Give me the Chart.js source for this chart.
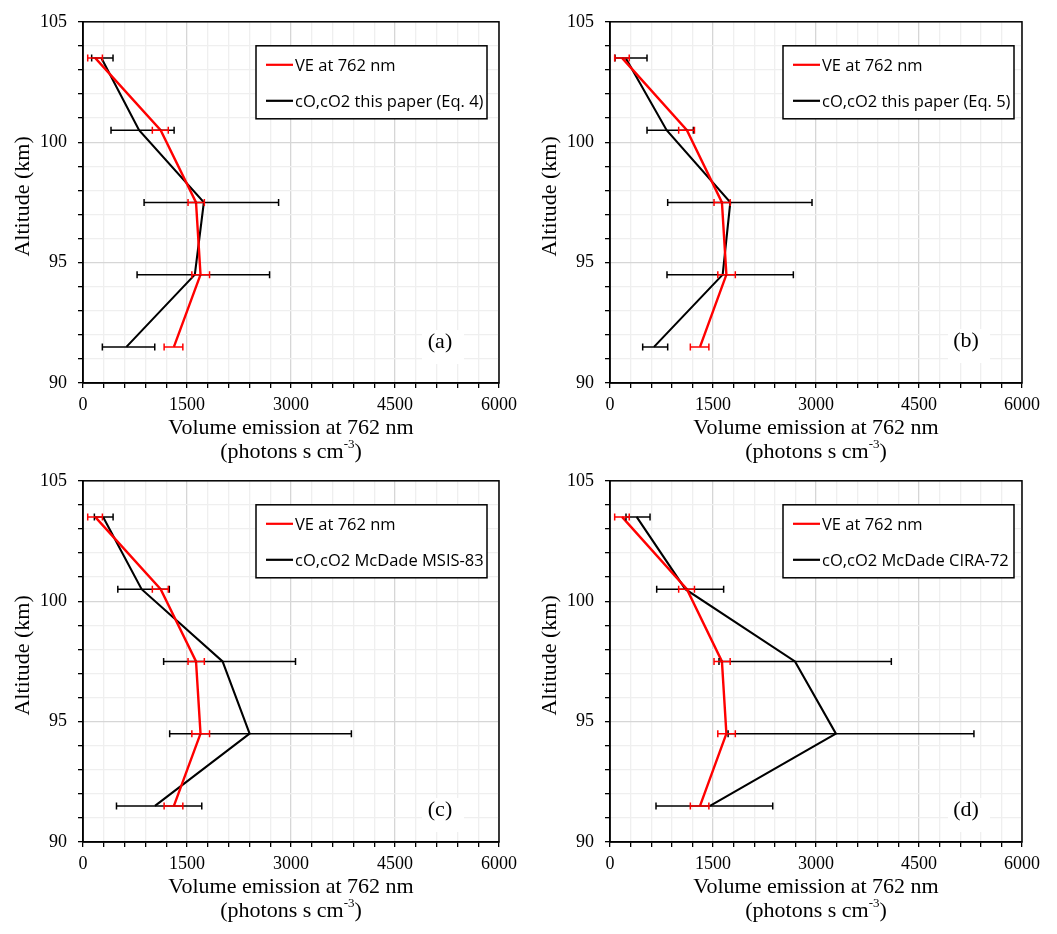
<!DOCTYPE html>
<html><head><meta charset="utf-8">
<script src="https://cdn.jsdelivr.net/npm/chart.js@4.4.1/dist/chart.umd.min.js"></script>
<style>
html,body{margin:0;padding:0;background:#fff;}
body{width:1057px;height:934px;position:relative;overflow:hidden;}
.panel{position:absolute;width:528px;height:464px;}
</style></head><body>
<div class="panel" style="left:0;top:0"><canvas id="c0"></canvas></div>
<div class="panel" style="left:527px;top:0"><canvas id="c1"></canvas></div>
<div class="panel" style="left:0;top:459px"><canvas id="c2"></canvas></div>
<div class="panel" style="left:527px;top:459px"><canvas id="c3"></canvas></div>
<script>
// ---------- data ----------
const altitudes = [103.5, 100.5, 97.5, 94.5, 91.5];

const veLabel = 'VE at 762 nm';
const veValues = [175, 1120, 1630, 1695, 1311];
const veLow    = [68, 1000, 1515, 1570, 1170];
const veHigh   = [280, 1230, 1750, 1825, 1440];

const modelLabels = [
  'cO,cO2 this paper (Eq. 4)',
  'cO,cO2 this paper (Eq. 5)',
  'cO,cO2 McDade MSIS-83',
  'cO,cO2 McDade CIRA-72'
];
const modelAValues = [265, 809, 1743, 1613, 626];
const modelALow    = [125, 404, 881, 780, 279];
const modelAHigh   = [433, 1314, 2821, 2691, 1035];

const modelBValues = [228, 825, 1752, 1641, 641];
const modelBLow    = [73, 539, 840, 830, 476];
const modelBHigh   = [539, 1214, 2942, 2670, 840];

const modelCValues = [290, 845, 2013, 2403, 1038];
const modelCLow    = [164, 502, 1163, 1250, 483];
const modelCHigh   = [434, 1245, 3065, 3871, 1713];

const modelDValues = [388, 1097, 2694, 3290, 1456];
const modelDLow    = [233, 680, 1587, 1720, 670];
const modelDHigh   = [583, 1655, 4097, 5300, 2370];

const panelTags = ['(a)', '(b)', '(c)', '(d)'];
const xTickLabels = [0, 1500, 3000, 4500, 6000];
const yTickLabels = [90, 95, 100, 105];
const xTitleLine1 = 'Volume emission at 762 nm';
const xTitleLine2 = ['(photons s cm', '-3', ')'];
const yTitle = 'Altitude (km)';

// ---------- style / layout ----------
const layouts = [
  {padRight: 29, tagDx: 59, tagDy: 41},
  {padRight: 33, tagDx: 56, tagDy: 42},
  {padRight: 29, tagDx: 59, tagDy: 32},
  {padRight: 33, tagDx: 56, tagDy: 32}
];
const SERIF = '"Liberation Serif", "Times New Roman", serif';
const SANS = '"Open Sans", "Liberation Sans", sans-serif';
const MAJOR = '#d6d6d6', MINOR = '#efefef';

const panels = [
  {tag: panelTags[0], label: modelLabels[0], v: modelAValues, lo: modelALow, hi: modelAHigh},
  {tag: panelTags[1], label: modelLabels[1], v: modelBValues, lo: modelBLow, hi: modelBHigh},
  {tag: panelTags[2], label: modelLabels[2], v: modelCValues, lo: modelCLow, hi: modelCHigh},
  {tag: panelTags[3], label: modelLabels[3], v: modelDValues, lo: modelDLow, hi: modelDHigh}
];

function pts(xs){ return xs.map((x, i) => ({x: x, y: altitudes[i]})); }

const errorBars = {
  id: 'errorBars',
  afterDatasetsDraw(chart){
    const {ctx, scales: {x, y}} = chart;
    const dsets = chart.data.datasets;
    for (let d = dsets.length - 1; d >= 0; d--){
      const ds = dsets[d];
      ctx.save();
      ctx.strokeStyle = ds.borderColor;
      ctx.lineWidth = 1.5;
      ds.data.forEach((p, i) => {
        const py = y.getPixelForValue(p.y);
        const x1 = x.getPixelForValue(ds.errLow[i]);
        const x2 = x.getPixelForValue(ds.errHigh[i]);
        ctx.beginPath();
        ctx.moveTo(x1, py); ctx.lineTo(x2, py);
        ctx.moveTo(x1, py - 3.5); ctx.lineTo(x1, py + 3.5);
        ctx.moveTo(x2, py - 3.5); ctx.lineTo(x2, py + 3.5);
        ctx.stroke();
      });
      ctx.restore();
    }
  }
};

const decor = {
  id: 'decor',
  afterDraw(chart, args, opts){
    const ctx = chart.ctx, ca = chart.chartArea;
    const L = opts.layout;
    ctx.save();
    // frame
    ctx.strokeStyle = '#000'; ctx.lineWidth = 1.5;
    ctx.strokeRect(ca.left, ca.top, ca.right - ca.left, ca.bottom - ca.top);
    // legend
    const bx = ca.left + 173, by = ca.top + 24, bw = 231, bh = 73;
    ctx.fillStyle = '#fff'; ctx.fillRect(bx, by, bw, bh);
    ctx.strokeStyle = '#000'; ctx.lineWidth = 1.5; ctx.strokeRect(bx, by, bw, bh);
    chart.data.datasets.forEach((ds, i) => {
      const ly = by + 19 + i * 36;
      ctx.strokeStyle = ds.borderColor; ctx.lineWidth = 2.2;
      ctx.beginPath(); ctx.moveTo(bx + 10, ly); ctx.lineTo(bx + 37, ly); ctx.stroke();
      ctx.fillStyle = '#000'; ctx.font = '16.5px ' + SANS;
      ctx.textAlign = 'left'; ctx.textBaseline = 'middle';
      ctx.fillText(ds.label, bx + 39, ly + 1);
    });
    // panel tag
    const tx = ca.right - L.tagDx, ty = ca.bottom - L.tagDy;
    ctx.fillStyle = '#fff'; ctx.fillRect(tx - 18, ty - 12, 42, 34);
    ctx.fillStyle = '#000'; ctx.font = '22px ' + SERIF;
    ctx.textAlign = 'center'; ctx.textBaseline = 'middle';
    ctx.fillText(opts.tag, tx, ty);
    // x title
    const cx = (ca.left + ca.right) / 2;
    ctx.font = '22px ' + SERIF;
    ctx.fillText(xTitleLine1, cx, ca.bottom + 45);
    const a = xTitleLine2[0], s = xTitleLine2[1], b = xTitleLine2[2];
    ctx.font = '22px ' + SERIF; const wa = ctx.measureText(a).width, wb = ctx.measureText(b).width;
    ctx.font = '13px ' + SERIF; const ws = ctx.measureText(s).width;
    let x0 = cx - (wa + ws + wb) / 2;
    const ly2 = ca.bottom + 69;
    ctx.textAlign = 'left';
    ctx.font = '22px ' + SERIF; ctx.fillText(a, x0, ly2); x0 += wa;
    ctx.font = '13px ' + SERIF; ctx.fillText(s, x0, ly2 - 7); x0 += ws;
    ctx.font = '22px ' + SERIF; ctx.fillText(b, x0, ly2);
    // y title
    ctx.translate(ca.left - 60, (ca.top + ca.bottom) / 2 - 6);
    ctx.rotate(-Math.PI / 2);
    ctx.textAlign = 'center'; ctx.font = '22px ' + SERIF;
    ctx.fillText(yTitle, 0, 0);
    ctx.restore();
  }
};

panels.forEach((p, k) => {
  const L = layouts[k];
  new Chart(document.getElementById('c' + k), {
    type: 'scatter',
    data: {
      datasets: [
        {label: veLabel, data: pts(veValues), errLow: veLow, errHigh: veHigh,
         borderColor: '#ff0000', backgroundColor: '#ff0000', borderWidth: 2.4,
         showLine: true, pointRadius: 0, tension: 0},
        {label: p.label, data: pts(p.v), errLow: p.lo, errHigh: p.hi,
         borderColor: '#000000', backgroundColor: '#000000', borderWidth: 2.1,
         showLine: true, pointRadius: 0, tension: 0}
      ]
    },
    options: {
      responsive: true, maintainAspectRatio: false, animation: false,
      layout: {padding: {left: 0, top: 18, right: L.padRight, bottom: 0}},
      plugins: {legend: {display: false}, tooltip: {enabled: false}, decor: {tag: p.tag, layout: L}},
      scales: {
        x: {
          type: 'linear', position: 'bottom', min: 0, max: 6000,
          afterFit(s){ s.height = 81; },
          ticks: {stepSize: 300, autoSkip: false, maxRotation: 0, padding: 6, color: '#000',
                  font: {family: SERIF, size: 18},
                  callback: v => xTickLabels.includes(v) ? String(v) : ''},
          grid: {color: c => (c.tick && xTickLabels.includes(c.tick.value)) ? MAJOR : MINOR,
                 lineWidth: 1.3, tickColor: '#000', tickLength: 5, tickWidth: 1.3, drawTicks: true},
          border: {color: '#000', width: 1.5}
        },
        y: {
          type: 'linear', min: 90, max: 105,
          afterFit(s){ s.width = 83; },
          ticks: {stepSize: 1, autoSkip: false, padding: 11, color: '#000',
                  font: {family: SERIF, size: 18},
                  callback: v => yTickLabels.includes(v) ? String(v) : ''},
          grid: {color: c => (c.tick && yTickLabels.includes(c.tick.value)) ? MAJOR : MINOR,
                 lineWidth: 1.3, tickColor: '#000', tickLength: 5, tickWidth: 1.3, drawTicks: true},
          border: {color: '#000', width: 1.5}
        }
      }
    },
    plugins: [errorBars, decor]
  });
});
</script>
</body></html>
